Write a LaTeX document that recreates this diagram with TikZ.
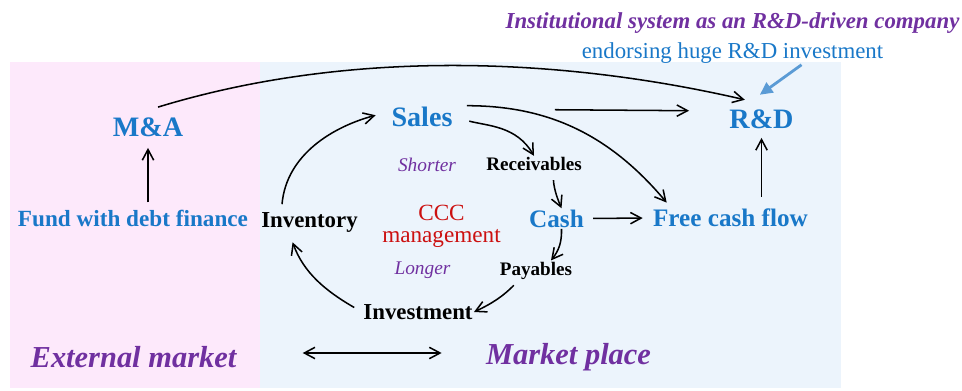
\documentclass[tikz,border=0pt]{standalone}
\usepackage{fontspec}
\setmainfont{Liberation Serif}
\usetikzlibrary{arrows.meta}
\definecolor{labelblue}{RGB}{25,120,200}
\definecolor{purp}{RGB}{112,48,160}
\definecolor{cccred}{RGB}{204,16,16}
\definecolor{pinkbg}{RGB}{253,233,251}
\definecolor{bluebg}{RGB}{236,244,252}
\definecolor{hintblue}{RGB}{91,155,213}
\begin{document}
\begin{tikzpicture}[x=0.3mm,y=0.3mm,
    >={Straight Barb[length=3.2mm,width=3.4mm]},
    big/.style={font=\bfseries\fontsize{24}{26}\selectfont, text=labelblue},
    mid/.style={font=\bfseries\fontsize{21.5}{24}\selectfont, text=labelblue},
    item/.style={font=\bfseries\fontsize{19.5}{22}\selectfont},
    small/.style={font=\bfseries\fontsize{16.3}{18}\selectfont},
    hint/.style={font=\itshape\fontsize{16.5}{18}\selectfont, text=purp},
    market/.style={font=\bfseries\itshape\fontsize{26}{28}\selectfont, text=purp}]

      \useasboundingbox (0,0) rectangle (962,390);
      \fill[pinkbg] (10,2) rectangle (260,328);
      \fill[bluebg] (260,2) rectangle (841,328);

      \begin{scope}[every node/.style={inner sep=1pt}]
        \node[big]    (mna)     at (148,263)     {M\&A};
        \node[text=labelblue, font=\bfseries\fontsize{19.8}{22}\selectfont]
                      (fund)    at (133,172)     {Fund with debt finance};
        \node[item]   (inv)     at (309.5,167.5) {Inventory};
        \node[big]    (sales)   at (422,273)     {Sales};
        \node[hint]   (shorter) at (427,225.5)   {Shorter};
        \node[small]  (recv)    at (534,226)     {Receivables};
        \node[text=cccred, align=center, font=\fontsize{19.8}{18.8}\selectfont]
                      (ccc)     at (441.5,164)   {CCC\\management};
        \node[mid]    (cash)    at (556.5,171.5) {Cash};
        \node[mid]    (fcf)     at (730.5,172)   {Free cash flow};
        \node[big]    (rnd)     at (761.5,271)   {R\&D};
        \node[hint]   (longer)  at (422.5,119.5) {Longer};
        \node[small]  (pay)     at (536,119.5)   {Payables};
        \node[item]   (invest)  at (418,78)      {Investment};
        \node[market] (ext)     at (133.5,32.5)  {External market};
        \node[market] (mkt)     at (568.5,32.5)  {Market place};
        \node[text=purp, font=\bfseries\itshape\fontsize{19.5}{22}\selectfont]
                      (title)   at (732.5,367)   {Institutional system as an R\&D-driven company};
        \node[text=labelblue, font=\fontsize{19.5}{22}\selectfont]
                      (endorse) at (732.5,337)   {endorsing huge R\&D investment};
      \end{scope}

      \begin{scope}[every edge/.style={draw, line width=1.3pt, ->}]
        \path ([shift={(3mm,2.7mm)}]mna.north) edge[out=17, in=167, looseness=.85] ([shift={(-5mm,2.5mm)}]rnd.north);
        \path (mna.south |- fund.north) edge[shorten <=1.8mm, shorten >=3mm] (mna.south);
        \path (rnd.south |- fcf.north) edge[shorten <=3.3mm, shorten >=2.4mm] (rnd.south);
        \path ([yshift=2.4mm]sales.east) edge[shorten <=30.3mm, shorten >=11.7mm] ([yshift=2.4mm]rnd.west);
        \path (sales.east) edge[out=-15, in=120, shorten <=4.8mm] (recv.north);
        \path (sales.north east) edge[out=0, in=130, shorten <=3.9mm] ([shift={(4.5mm,1.5mm)}]fcf.north west);
        \path ([xshift=5.7mm]recv.south) edge[bend right=10, shorten <=2.4mm] ([xshift=1.5mm]cash.north);
        \path (cash.east) edge[shorten <=2.4mm, shorten >=2.7mm] (fcf.west);
        \path ([xshift=1.5mm]cash.south) edge[bend left=20] ([xshift=4.5mm]pay.north);
        \path (pay.-150) edge[bend left=10, shorten <=2mm] (invest.east);
        \path (invest.west) edge[out=150, in=-70, shorten <=2.7mm, shorten >=2.7mm] ([xshift=-6mm]inv.south);
        \path (inv.158) edge[out=85, in=195, shorten <=2.1mm, shorten >=4.5mm] (sales.170);
        \path ([yshift=1.35mm]ext.east) edge[<->, shorten <=19.5mm, shorten >=12.9mm] ([yshift=1.35mm]mkt.west);
        \path ([xshift=20.7mm]endorse.south) edge[draw=hintblue, line width=2.4pt, -{Triangle[length=3.8mm,width=3.6mm]}] ([shift={(-0.5mm,4mm)}]rnd.north);
      \end{scope}

    \end{tikzpicture}
\end{document}
